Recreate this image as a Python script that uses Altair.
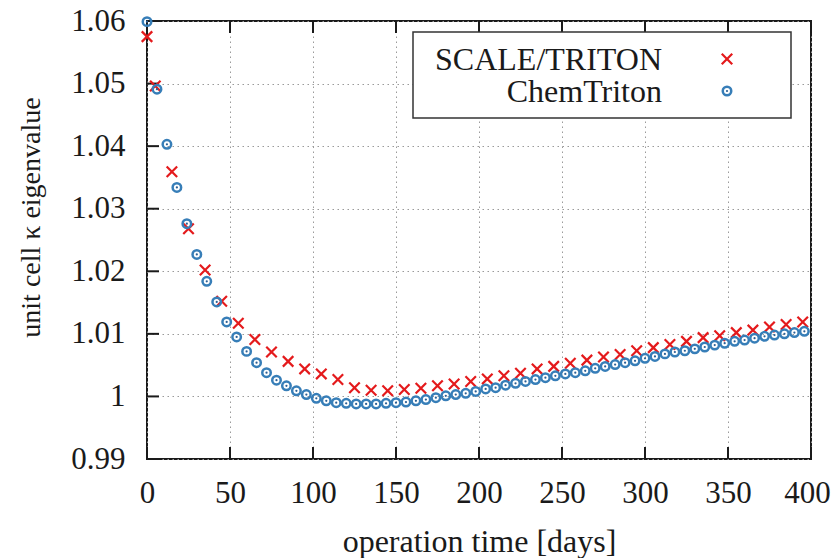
import altair as alt
import pandas as pd

# ---------------- data ----------------
red_days = [0, 5, 15, 25, 35, 45, 55, 65, 75, 85, 95, 105, 115, 125, 135, 145,
            155, 165, 175, 185, 195, 205, 215, 225, 235, 245, 255, 265, 275,
            285, 295, 305, 315, 325, 335, 345, 355, 365, 375, 385, 395]
red_keff = [1.0575, 1.0496, 1.0359, 1.0268, 1.0202, 1.0152, 1.0117, 1.0091,
            1.0071, 1.0056, 1.0044, 1.0036, 1.0027, 1.0014, 1.0010, 1.0009,
            1.0011, 1.0013, 1.0017, 1.0020, 1.0024, 1.0028, 1.0033, 1.0037,
            1.0044, 1.0048, 1.0053, 1.0058, 1.0063, 1.0067, 1.0073, 1.0078,
            1.0083, 1.0088, 1.0094, 1.0097, 1.0102, 1.0106, 1.0111, 1.0115,
            1.0119]

blue_days = [0, 6, 12, 18, 24, 30, 36, 42, 48, 54, 60, 66, 72, 78, 84, 90, 96,
             102, 108, 114, 120, 126, 132, 138, 144, 150, 156, 162, 168, 174,
             180, 186, 192, 198, 204, 210, 216, 222, 228, 234, 240, 246, 252,
             258, 264, 270, 276, 282, 288, 294, 300, 306, 312, 318, 324, 330,
             336, 342, 348, 354, 360, 366, 372, 378, 384, 390, 396]
blue_keff = [1.0599, 1.0491, 1.0403, 1.0334, 1.0276, 1.0227, 1.0184, 1.0151,
             1.0119, 1.0095, 1.0072, 1.0054, 1.0038, 1.0026, 1.0017, 1.0009,
             1.0003, 0.9997, 0.9993, 0.9990, 0.9989, 0.9988, 0.9988, 0.9988,
             0.9989, 0.9990, 0.9991, 0.9993, 0.9995, 0.9998, 1.0001, 1.0003,
             1.0005, 1.0008, 1.0012, 1.0014, 1.0018, 1.0021, 1.0024, 1.0027,
             1.0030, 1.0033, 1.0036, 1.0038, 1.0041, 1.0045, 1.0048, 1.0051,
             1.0054, 1.0057, 1.0061, 1.0064, 1.0068, 1.0071, 1.0073, 1.0076,
             1.0079, 1.0082, 1.0085, 1.0088, 1.0090, 1.0093, 1.0096, 1.0098,
             1.0100, 1.0102, 1.0104]

series_names = ["SCALE/TRITON", "ChemTriton"]
x_tick_values = [0, 50, 100, 150, 200, 250, 300, 350, 400]
y_tick_values = [0.99, 1.00, 1.01, 1.02, 1.03, 1.04, 1.05, 1.06]
x_title = "operation time [days]"
y_title = "unit cell κ eigenvalue"

# ---------------- styling ----------------
FONT = "Liberation Serif"
FS = 31
RED = "#e41a1c"
BLUE = "#377eb8"
INK = "#1a1a1a"
W, H = 664, 438
TICK = 12
CROSS = "M-1,-1L1,1M-1,1L1,-1"

df_red = pd.DataFrame({"days": red_days, "keff": red_keff})
df_blue = pd.DataFrame({"days": blue_days, "keff": blue_keff})
df_xt = pd.DataFrame({"days": x_tick_values})
df_yt = pd.DataFrame({"keff": y_tick_values})

xscale = alt.Scale(domain=[0, 400], nice=False, zero=False)
yscale = alt.Scale(domain=[0.99, 1.06], nice=False, zero=False)

x_axis = alt.Axis(
    values=x_tick_values, title=x_title, grid=True, gridDash=[1.5, 3.5],
    gridColor="#9a9a9a", gridWidth=1, ticks=False, tickSize=0, domain=False,
    labelFont=FONT, labelFontSize=FS, labelColor=INK, labelPadding=43,
    labelBaseline="alphabetic", labelFlush=False, labelOverlap=False,
    labelOffset={"condition": {"test": "datum.value >= 400", "value": -4},
                 "value": 0},
    titleFont=FONT, titleFontSize=32, titleFontWeight="normal",
    titleColor=INK, titleY=92, titleBaseline="alphabetic",
)
y_axis = alt.Axis(
    values=y_tick_values, format=".2~f", title=y_title, grid=True,
    gridDash=[1.5, 3.5], gridColor="#9a9a9a", gridWidth=1, ticks=False,
    tickSize=0, domain=False, labelFont=FONT, labelFontSize=FS,
    labelColor=INK, labelPadding=22, labelAlign="right",
    labelBaseline="middle", labelFlush=False, labelOverlap=False,
    titleFont=FONT, titleFontSize=28, titleFontWeight="normal",
    titleColor=INK, titleAngle=270, titleX=-108, titleY=196,
    titleAlign="center", titleBaseline="alphabetic",
)


def X():
    return alt.X("days:Q", scale=xscale, axis=x_axis)


def Y():
    return alt.Y("keff:Q", scale=yscale, axis=y_axis)


red = alt.Chart(df_red).mark_point(
    shape=CROSS, filled=False, stroke=RED, strokeWidth=2.2, size=110, opacity=1
).encode(x=X(), y=Y())
blue_ring = alt.Chart(df_blue).mark_point(
    shape="circle", filled=False, stroke=BLUE, strokeWidth=2.5, size=72,
    opacity=1
).encode(x=X(), y=Y())
blue_dot = alt.Chart(df_blue).mark_point(
    shape="circle", filled=True, fill="#2a5f95", strokeWidth=0, size=5,
    opacity=1
).encode(x=X(), y=Y())

tick_style = dict(color=INK, strokeWidth=2)
xt_bottom = alt.Chart(df_xt).mark_rule(**tick_style).encode(
    x=X(), y=alt.value(H), y2=alt.value(H - TICK))
xt_top = alt.Chart(df_xt).mark_rule(**tick_style).encode(
    x=X(), y=alt.value(0), y2=alt.value(TICK))
yt_left = alt.Chart(df_yt).mark_rule(**tick_style).encode(
    y=Y(), x=alt.value(0), x2=alt.value(TICK))

# ---------------- legend (gnuplot style, key at top right) ----------------
LX0, LX1, LY0, LY1 = 266, 644, 11, 97
TXT_X, SYM_X = 515, 580
row_y = [38, 70]
base_y = [49, 81]

legend_box = alt.Chart(alt.Data(values=[{"k": 1}])).mark_rect(
    fill="white", stroke="#333333", strokeWidth=1.5
).encode(x=alt.value(LX0), x2=alt.value(LX1), y=alt.value(LY0),
         y2=alt.value(LY1))

legend_layers = [legend_box]
for i, name in enumerate(series_names):
    legend_layers.append(
        alt.Chart(alt.Data(values=[{"label": name}])).mark_text(
            font=FONT, fontSize=32, align="right", baseline="alphabetic",
            color=INK
        ).encode(x=alt.value(TXT_X), y=alt.value(base_y[i]),
                 text="label:N")
    )
legend_layers.append(
    alt.Chart(alt.Data(values=[{"k": 1}])).mark_point(
        shape=CROSS, filled=False, stroke=RED, strokeWidth=2.2, size=110,
        opacity=1
    ).encode(x=alt.value(SYM_X), y=alt.value(row_y[0]))
)
legend_layers.append(
    alt.Chart(alt.Data(values=[{"k": 1}])).mark_point(
        shape="circle", filled=False, stroke=BLUE, strokeWidth=2.5, size=72,
        opacity=1
    ).encode(x=alt.value(SYM_X), y=alt.value(row_y[1]))
)
legend_layers.append(
    alt.Chart(alt.Data(values=[{"k": 1}])).mark_point(
        shape="circle", filled=True, fill="#2a5f95", strokeWidth=0, size=5,
        opacity=1
    ).encode(x=alt.value(SYM_X), y=alt.value(row_y[1]))
)

chart = alt.layer(
    xt_bottom, xt_top, yt_left, red, blue_ring, blue_dot, *legend_layers
).properties(
    width=W, height=H,
    background="white",
    autosize=alt.AutoSizeParams(type="none"),
    padding={"left": 139, "top": 13, "right": 20, "bottom": 99},
).configure_view(
    stroke=INK, strokeWidth=2
)

chart.save("out.html", embed_options={"renderer": "svg", "actions": False})
